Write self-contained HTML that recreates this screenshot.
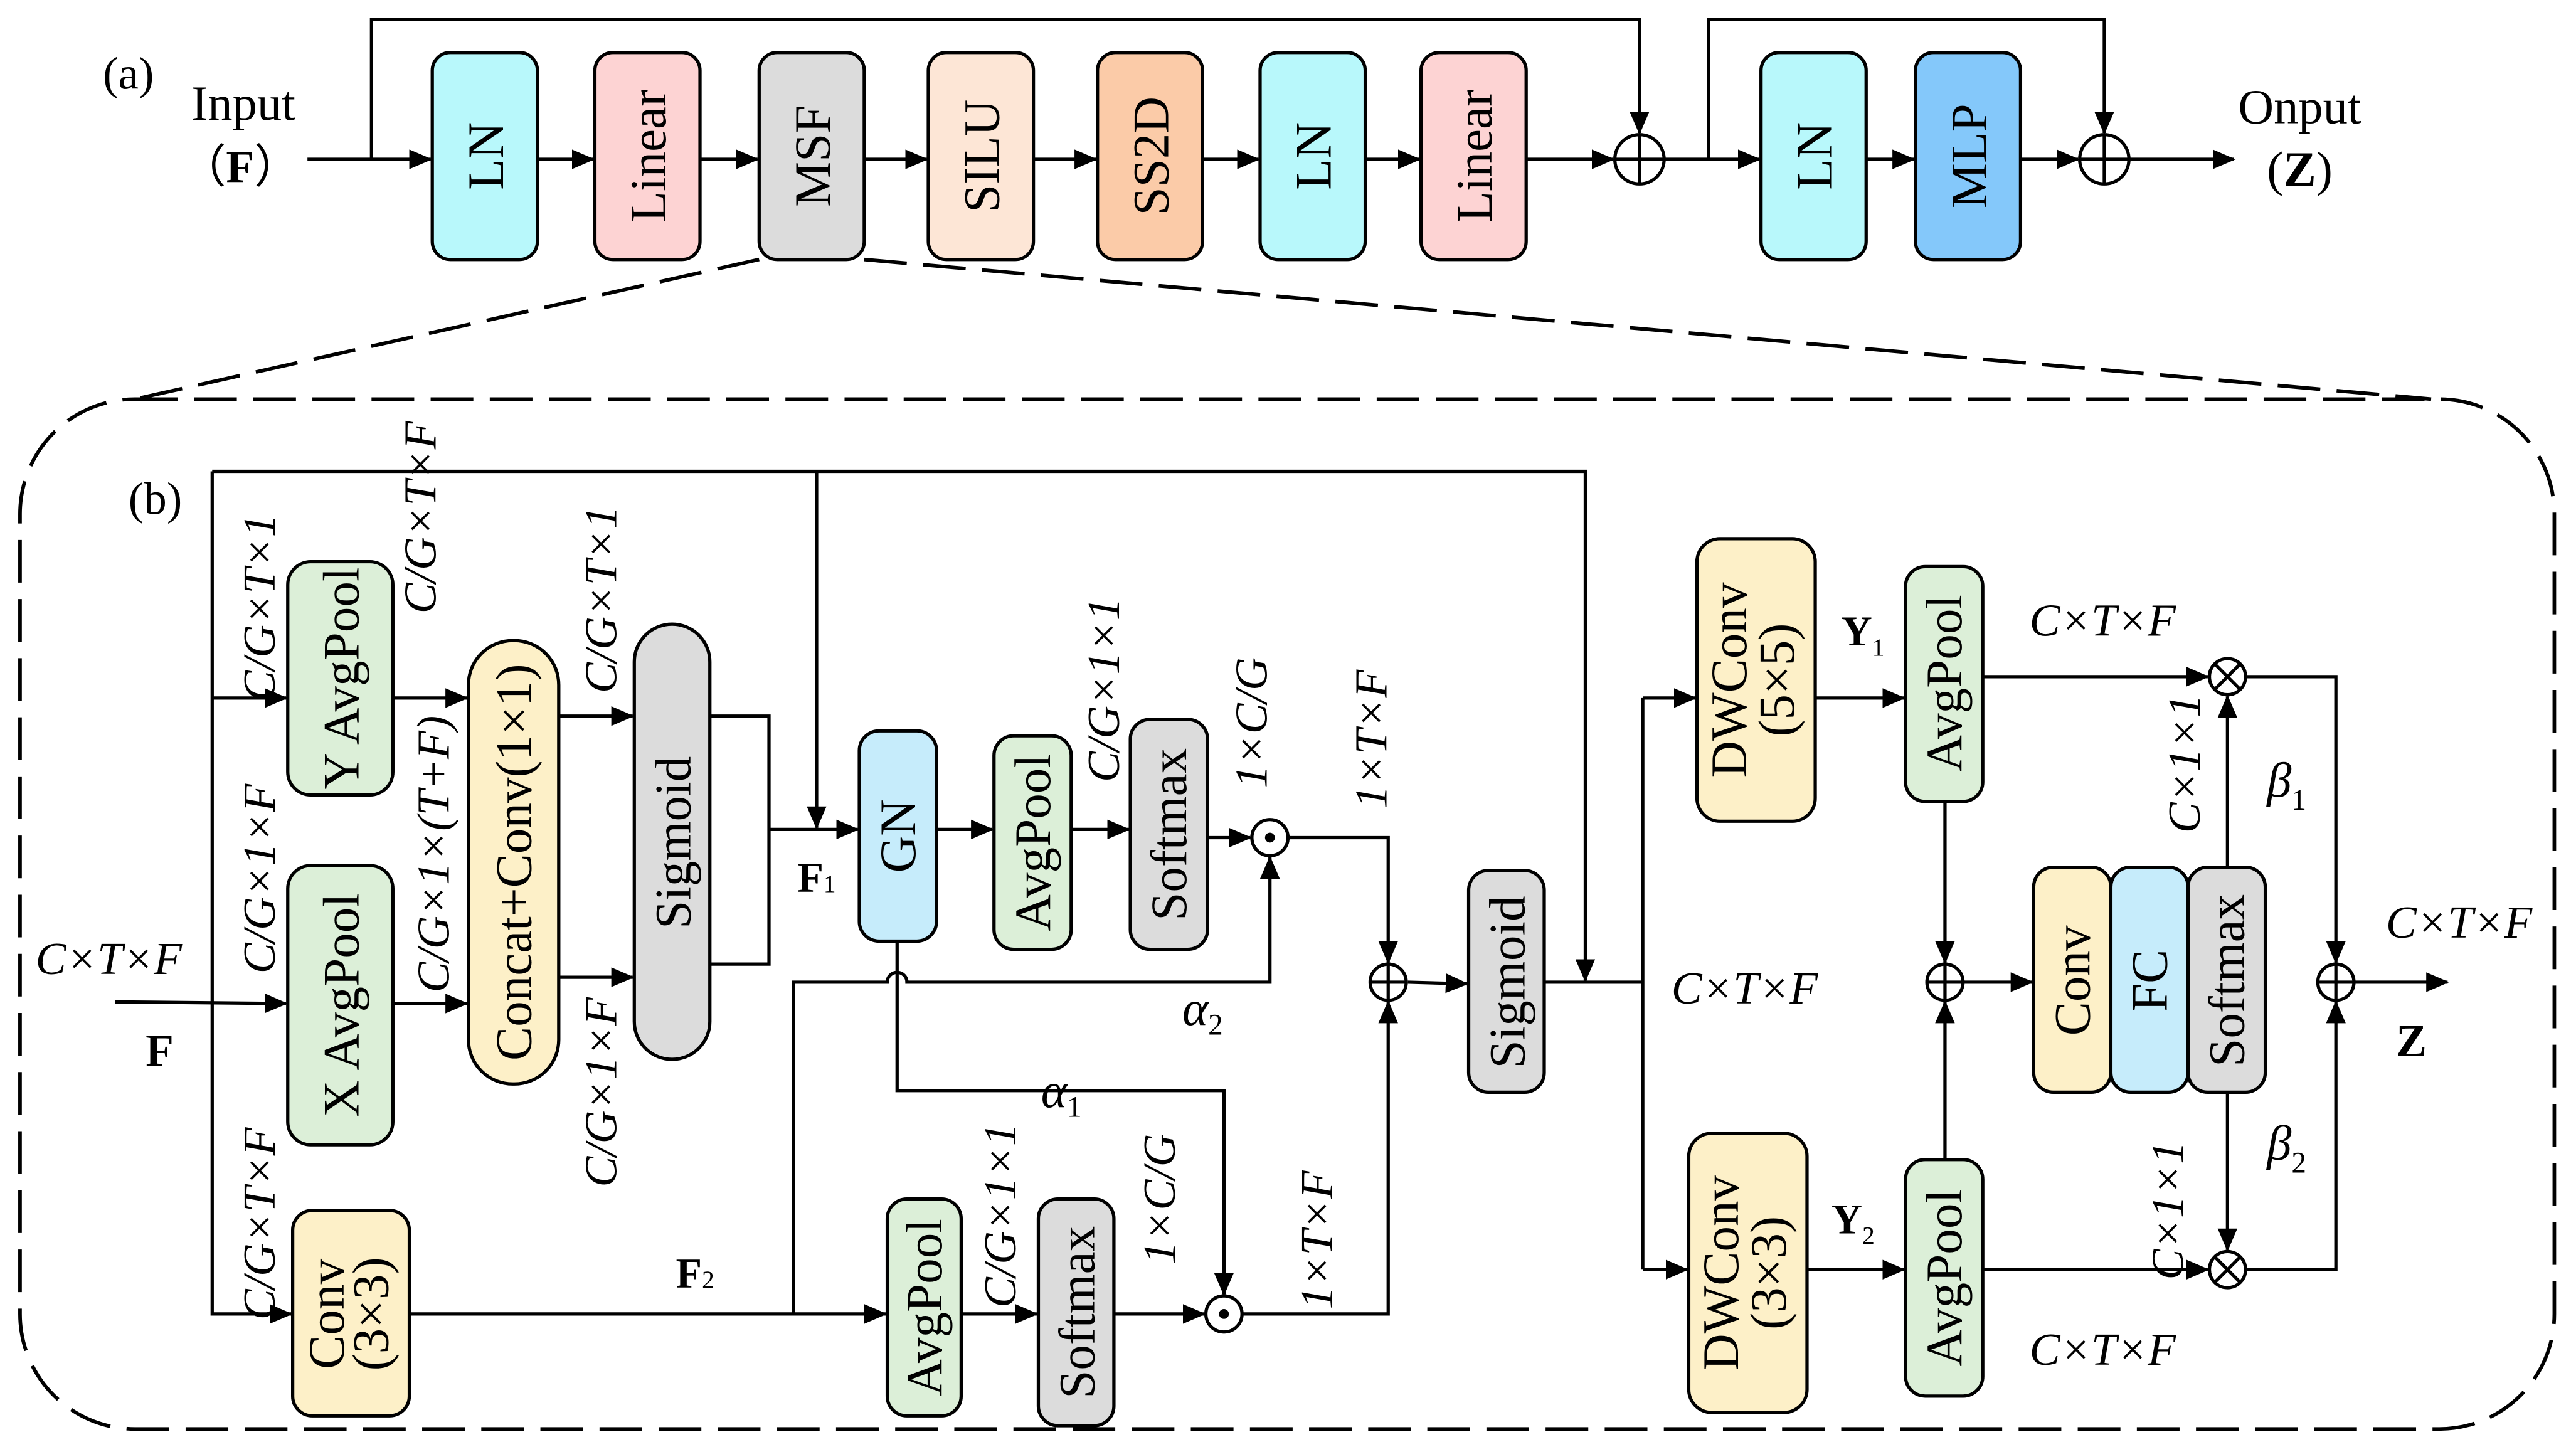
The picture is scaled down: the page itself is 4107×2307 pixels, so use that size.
<!DOCTYPE html>
<html><head><meta charset="utf-8"><style>
html,body{margin:0;padding:0;background:#fff}
svg{display:block}
text{font-family:"Liberation Serif",serif;fill:#000}
.b{font-size:31px}
.l{font-size:28px;font-style:italic}
</style></head><body>
<svg width="4107" height="2307" viewBox="0 0 1568 881" xmlns="http://www.w3.org/2000/svg">
<defs>
<marker id="m" markerWidth="14" markerHeight="12" refX="13" refY="6" orient="auto" markerUnits="userSpaceOnUse"><path d="M0,0 L14,6 L0,12 z" fill="#000"/></marker>
</defs>
<rect width="1568" height="881" fill="#fff"/>
<g stroke="#000" stroke-width="2" fill="none">
<path d="M187,97 L262,97" marker-end="url(#m)"/>
<path d="M226,97 L226,12 L998,12 L998,81" marker-end="url(#m)"/>
<path d="M327,97 L361,97" marker-end="url(#m)"/>
<path d="M426,97 L461,97" marker-end="url(#m)"/>
<path d="M526,97 L564,97" marker-end="url(#m)"/>
<path d="M629,97 L667,97" marker-end="url(#m)"/>
<path d="M732,97 L766,97" marker-end="url(#m)"/>
<path d="M831,97 L864,97" marker-end="url(#m)"/>
<path d="M929,97 L982,97" marker-end="url(#m)"/>
<path d="M1013,97 L1071,97" marker-end="url(#m)"/>
<path d="M1040,97 L1040,12 L1281,12 L1281,81" marker-end="url(#m)"/>
<path d="M1136,97 L1165,97" marker-end="url(#m)"/>
<path d="M1230,97 L1265,97" marker-end="url(#m)"/>
<path d="M1296,97 L1360,97" marker-end="url(#m)"/>
<circle cx="998" cy="97" r="15"/><path d="M983,97 H1013 M998,82 V112"/>
<circle cx="1281" cy="97" r="15"/><path d="M1266,97 H1296 M1281,82 V112"/>
</g>
<g stroke="#000" stroke-width="2">
<rect x="263" y="32" width="64" height="126" rx="11" fill="#b8f8fb"/>
<rect x="362" y="32" width="64" height="126" rx="11" fill="#fdd3d3"/>
<rect x="462" y="32" width="64" height="126" rx="11" fill="#dcdcdc"/>
<rect x="565" y="32" width="64" height="126" rx="11" fill="#fde6d6"/>
<rect x="668" y="32" width="64" height="126" rx="11" fill="#fbcba8"/>
<rect x="767" y="32" width="64" height="126" rx="11" fill="#b8f8fb"/>
<rect x="865" y="32" width="64" height="126" rx="11" fill="#fdd3d3"/>
<rect x="1072" y="32" width="64" height="126" rx="11" fill="#b8f8fb"/>
<rect x="1166" y="32" width="64" height="126" rx="11" fill="#84c8fa"/>
</g>
<g class="b" text-anchor="middle">
<text transform="translate(306,95) rotate(-90)">LN</text>
<text transform="translate(405,95) rotate(-90)">Linear</text>
<text transform="translate(505,95) rotate(-90)">MSF</text>
<text transform="translate(608,95) rotate(-90)">SILU</text>
<text transform="translate(711,95) rotate(-90)">SS2D</text>
<text transform="translate(810,95) rotate(-90)">LN</text>
<text transform="translate(908,95) rotate(-90)">Linear</text>
<text transform="translate(1115,95) rotate(-90)">LN</text>
<text transform="translate(1209,95) rotate(-90)">MLP</text>
<text x="78" y="54" font-size="28">(a)</text>
<text x="148" y="73" font-size="30">Input</text>
<text x="146" y="111" font-size="28">（<tspan font-weight="bold">F</tspan>）</text>
<text x="1400" y="75" font-size="30">Onput</text>
<text x="1400" y="113" font-size="30">(<tspan font-weight="bold">Z</tspan>)</text>
</g>
<g stroke="#000" stroke-width="2.2" fill="none" stroke-dasharray="26,10">
<path d="M462,158 L82,243"/>
<path d="M526,158 L1480,243"/>
<rect x="12" y="243" width="1543" height="627" rx="70"/>
</g>
<g stroke="#000" stroke-width="2" fill="none">
<path d="M70,610 L174,611" marker-end="url(#m)"/>
<path d="M129,287 L129,800 L177,800" marker-end="url(#m)"/>
<path d="M129,425 L174,425" marker-end="url(#m)"/>
<path d="M129,287 L965,287 L965,597" marker-end="url(#m)"/>
<path d="M497,287 L497,504" marker-end="url(#m)"/>
<path d="M239,425 L284,425" marker-end="url(#m)"/>
<path d="M239,611 L284,611" marker-end="url(#m)"/>
<path d="M340,436 L385,436" marker-end="url(#m)"/>
<path d="M340,595 L385,595" marker-end="url(#m)"/>
<path d="M432,436 L468,436 L468,587 L432,587"/>
<path d="M468,505 L522,505" marker-end="url(#m)"/>
<path d="M570,505 L604,505" marker-end="url(#m)"/>
<path d="M652,505 L687,505" marker-end="url(#m)"/>
<path d="M735,510 L761,510" marker-end="url(#m)"/>
<circle cx="773" cy="510" r="11"/><circle cx="773" cy="510" r="2" fill="#000"/>
<path d="M784,510 L845,510 L845,586" marker-end="url(#m)"/>
<path d="M546,573 L546,664 L745,664 L745,788" marker-end="url(#m)"/>
<path d="M483,800 L483,598 L540,598 A6,6 0 0 1 552,598 L773,598 L773,522" marker-end="url(#m)"/>
<path d="M249,800 L539,800" marker-end="url(#m)"/>
<path d="M585,800 L631,800" marker-end="url(#m)"/>
<path d="M678,800 L733,800" marker-end="url(#m)"/>
<circle cx="745" cy="800" r="11"/><circle cx="745" cy="800" r="2" fill="#000"/>
<path d="M756,800 L845,800 L845,610" marker-end="url(#m)"/>
<circle cx="845" cy="598" r="11"/><path d="M834,598 H856 M845,587 V609"/>
<path d="M857,598 L893,599" marker-end="url(#m)"/>
<path d="M940,598 L1000,598"/>
<path d="M1000,425 L1000,773"/>
<path d="M1000,425 L1032,425" marker-end="url(#m)"/>
<path d="M1000,773 L1027,773" marker-end="url(#m)"/>
<path d="M1105,425 L1159,425" marker-end="url(#m)"/>
<path d="M1100,773 L1159,773" marker-end="url(#m)"/>
<path d="M1207,412 L1344,412" marker-end="url(#m)"/>
<path d="M1207,773 L1344,773" marker-end="url(#m)"/>
<circle cx="1356" cy="412" r="11"/><path d="M1348,404 L1364,420 M1364,404 L1348,420"/>
<circle cx="1356" cy="773" r="11"/><path d="M1348,765 L1364,781 M1364,765 L1348,781"/>
<path d="M1184,488 L1184,586" marker-end="url(#m)"/>
<path d="M1184,706 L1184,610" marker-end="url(#m)"/>
<circle cx="1184" cy="598" r="11"/><path d="M1173,598 H1195 M1184,587 V609"/>
<path d="M1195,598 L1237,598" marker-end="url(#m)"/>
<path d="M1356,528 L1356,424" marker-end="url(#m)"/>
<path d="M1356,665 L1356,761" marker-end="url(#m)"/>
<path d="M1367,412 L1422,412 L1422,586" marker-end="url(#m)"/>
<path d="M1367,773 L1422,773 L1422,610" marker-end="url(#m)"/>
<circle cx="1422" cy="598" r="11"/><path d="M1411,598 H1433 M1422,587 V609"/>
<path d="M1433,598 L1490,598" marker-end="url(#m)"/>
</g>
<g stroke="#000" stroke-width="2">
<rect x="175" y="342" width="64" height="142" rx="14" fill="#dcefd8"/>
<rect x="175" y="527" width="64" height="170" rx="14" fill="#dcefd8"/>
<rect x="178" y="737" width="71" height="125" rx="12" fill="#fdf0c8"/>
<rect x="285" y="390" width="55" height="270" rx="27" fill="#fdf0c8"/>
<rect x="386" y="380" width="46" height="265" rx="23" fill="#dcdcdc"/>
<rect x="523" y="445" width="47" height="128" rx="12" fill="#c6ecfb"/>
<rect x="605" y="448" width="47" height="130" rx="12" fill="#dcefd8"/>
<rect x="688" y="438" width="47" height="140" rx="12" fill="#dcdcdc"/>
<rect x="540" y="730" width="45" height="132" rx="12" fill="#dcefd8"/>
<rect x="632" y="730" width="46" height="138" rx="12" fill="#dcdcdc"/>
<rect x="894" y="530" width="46" height="135" rx="12" fill="#dcdcdc"/>
<rect x="1033" y="328" width="72" height="172" rx="14" fill="#fdf0c8"/>
<rect x="1028" y="690" width="72" height="170" rx="14" fill="#fdf0c8"/>
<rect x="1160" y="345" width="47" height="143" rx="12" fill="#dcefd8"/>
<rect x="1160" y="706" width="47" height="144" rx="12" fill="#dcefd8"/>
<rect x="1238" y="528" width="47" height="137" rx="12" fill="#fdf0c8"/>
<rect x="1285" y="528" width="47" height="137" rx="12" fill="#c6ecfb"/>
<rect x="1332" y="528" width="47" height="137" rx="12" fill="#dcdcdc"/>
</g>
<g class="b" text-anchor="middle">
<text transform="translate(218,413) rotate(-90)">Y AvgPool</text>
<text transform="translate(218,612) rotate(-90)">X AvgPool</text>
<text transform="translate(209,800) rotate(-90)">Conv</text>
<text transform="translate(236,800) rotate(-90)">(3×3)</text>
<text transform="translate(323,525) rotate(-90)">Concat+Conv(1×1)</text>
<text transform="translate(420,513) rotate(-90)">Sigmoid</text>
<text transform="translate(557,509) rotate(-90)">GN</text>
<text transform="translate(639,513) rotate(-90)">AvgPool</text>
<text transform="translate(722,508) rotate(-90)">Softmax</text>
<text transform="translate(573,796) rotate(-90)">AvgPool</text>
<text transform="translate(666,799) rotate(-90)">Softmax</text>
<text transform="translate(928,598) rotate(-90)">Sigmoid</text>
<text transform="translate(1063,414) rotate(-90)">DWConv</text>
<text transform="translate(1092,414) rotate(-90)">(5×5)</text>
<text transform="translate(1058,775) rotate(-90)">DWConv</text>
<text transform="translate(1087,775) rotate(-90)">(3×3)</text>
<text transform="translate(1194,416) rotate(-90)">AvgPool</text>
<text transform="translate(1194,778) rotate(-90)">AvgPool</text>
<text transform="translate(1272,597) rotate(-90)">Conv</text>
<text transform="translate(1319,597) rotate(-90)">FC</text>
<text transform="translate(1366,597) rotate(-90)">Softmax</text>
</g>
<g class="l" text-anchor="middle">
<text transform="translate(167,370) rotate(-90)">C/G×T×1</text>
<text transform="translate(265,315) rotate(-90)">C/G×T×F</text>
<text transform="translate(167,535) rotate(-90)">C/G×1×F</text>
<text transform="translate(273,520) rotate(-90)">C/G×1×(T+F)</text>
<text transform="translate(375,365) rotate(-90)">C/G×T×1</text>
<text transform="translate(375,665) rotate(-90)">C/G×1×F</text>
<text transform="translate(167,745) rotate(-90)">C/G×T×F</text>
<text transform="translate(681,420) rotate(-90)">C/G×1×1</text>
<text transform="translate(771,440) rotate(-90)">1×C/G</text>
<text transform="translate(844,450) rotate(-90)">1×T×F</text>
<text transform="translate(618,740) rotate(-90)">C/G×1×1</text>
<text transform="translate(715,730) rotate(-90)">1×C/G</text>
<text transform="translate(811,755) rotate(-90)">1×T×F</text>
<text transform="translate(1339,465) rotate(-90)">C×1×1</text>
<text transform="translate(1329,737) rotate(-90)">C×1×1</text>
<text x="66" y="593">C×T×F</text>
<text x="1062" y="611">C×T×F</text>
<text x="1280" y="387">C×T×F</text>
<text x="1280" y="831">C×T×F</text>
<text x="1497" y="571">C×T×F</text>
<text x="732" y="624" font-size="30">α<tspan font-size="18" font-style="normal" dy="6">2</tspan></text>
<text x="646" y="674" font-size="30">α<tspan font-size="18" font-style="normal" dy="6">1</tspan></text>
<text x="1392" y="485" font-size="30">β<tspan font-size="18" font-style="normal" dy="8">1</tspan></text>
<text x="1392" y="706" font-size="30">β<tspan font-size="18" font-style="normal" dy="8">2</tspan></text>
</g>
<g text-anchor="middle" font-weight="bold">
<text x="97" y="649" font-size="28">F</text>
<text x="497" y="543" font-size="26">F<tspan font-size="15" font-weight="normal">1</tspan></text>
<text x="423" y="784" font-size="26">F<tspan font-size="15" font-weight="normal">2</tspan></text>
<text x="1134" y="393" font-size="26">Y<tspan font-size="15" font-weight="normal" dy="6">1</tspan></text>
<text x="1128" y="751" font-size="26">Y<tspan font-size="15" font-weight="normal" dy="6">2</tspan></text>
<text x="1468" y="643" font-size="28">Z</text>
</g>
<text x="78" y="313" font-size="28">(b)</text>
</svg>
</body></html>
